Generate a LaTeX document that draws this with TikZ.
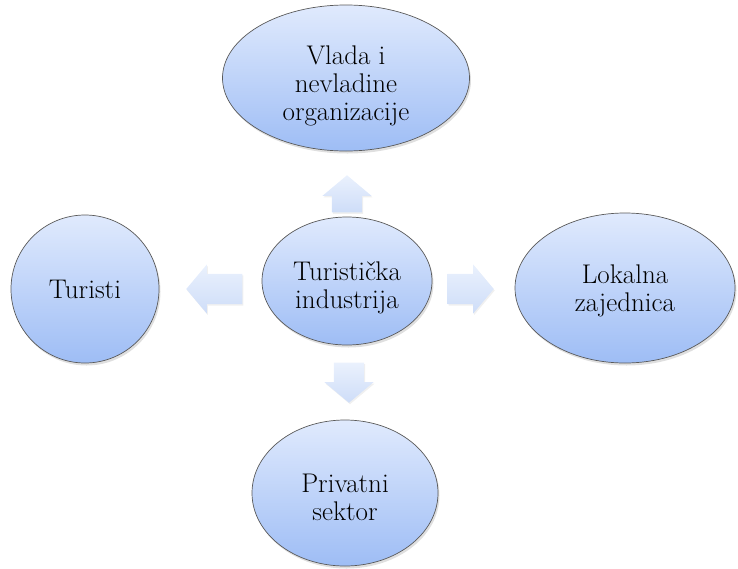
\documentclass[tikz,border=0pt]{standalone}
\usepackage{fontspec}
\usetikzlibrary{shapes.geometric,shapes.arrows,shadows}
\definecolor{blobtop}{RGB}{224,234,253}
\definecolor{blobbot}{RGB}{158,189,245}
\definecolor{flowtop}{RGB}{234,241,253}
\definecolor{flowbot}{RGB}{206,221,248}

\begin{document}
\begin{tikzpicture}[x=1pt,y=-1pt,
    blob/.style={shape=ellipse,draw=black!65,line width=0.7pt,top color=blobtop,bottom color=blobbot,
      inner sep=0pt,align=center,font=\fontsize{27}{28}\selectfont,
      drop shadow={opacity=0.25,shadow xshift=1.5pt,shadow yshift=-2.5pt}},
    flow/.style={single arrow,draw=none,top color=flowtop,bottom color=flowbot,inner sep=0pt,anchor=tip,
      minimum width=0pt,single arrow head extend=9.5pt,single arrow tip angle=100,
      drop shadow={opacity=0.12,shadow xshift=1pt,shadow yshift=-1.5pt}},
    hflow/.style={flow,inner ysep=15pt},
    vflow/.style={flow,inner xsep=15pt}]
      \useasboundingbox (0,0) rectangle (738,568);
      \node[blob,minimum width=247pt,minimum height=146pt] (V) at (346,78) {\rule{0pt}{35pt}Vlada i\\nevladine\\organizacije};
      \node[blob,minimum width=170pt,minimum height=128pt] (I) at (347,281) {\rule{0pt}{32pt}Turistička\\industrija};
      \node[blob,shape=circle,minimum size=148pt] (T) at (85,289) {Turisti};
      \node[blob,minimum width=220pt,minimum height=150pt] (L) at (625,288) {\rule{0pt}{24pt}Lokalna\\zajednica};
      \node[blob,minimum width=186pt,minimum height=146pt] (P) at (345,493) {\rule{0pt}{28pt}Privatni\\sektor};
      \node[vflow,shape border rotate=90,minimum height=37pt] (up) at (347,175) {};
      \node[hflow,shape border rotate=180,minimum height=56pt] (left) at (186,289) {};
      \node[hflow,shape border rotate=0,minimum height=46pt] (right) at (494,289) {};
      \node[vflow,shape border rotate=270,minimum height=40pt] (down) at (349,403) {};
    \end{tikzpicture}
\end{document}
